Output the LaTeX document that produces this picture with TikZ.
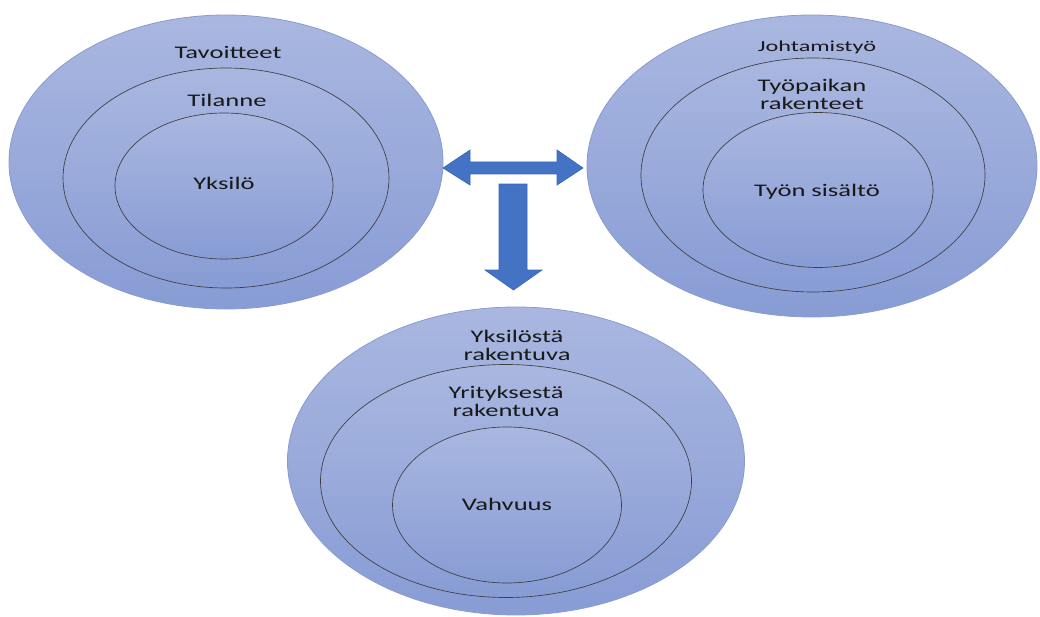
\documentclass[tikz,border=0pt]{standalone}
\usepackage{fontspec}
\setmainfont{Carlito}
\usetikzlibrary{shapes.geometric}
\definecolor{elltop}{HTML}{A9B7E0}
\definecolor{ellbot}{HTML}{889CD5}
\definecolor{ringline}{HTML}{3F3F3F}
\definecolor{outerline}{HTML}{8A9BCF}
\definecolor{arrowblue}{HTML}{4472C4}
\definecolor{arrowline}{HTML}{3A67B8}
\newcommand{\lbl}[2][1.5]{\scalebox{#1}[1]{\begin{tabular}[t]{@{}c@{}}#2\end{tabular}}}
\begin{document}
\begin{tikzpicture}[x=0.75pt,y=-0.75pt,
 ring/.style={ellipse, inner sep=0pt, top color=elltop, bottom color=ellbot, draw=ringline, line width=0.5pt},
 outerring/.style={ring, draw=outerline, line width=0.6pt},
 lab/.style={anchor=base, inner sep=0pt, text=black!90, font=\fontsize{13.3}{13.5}\selectfont},
 smalllab/.style={lab, font=\fontsize{11.5}{12}\selectfont},
 blockarrow/.style={fill=arrowblue, draw=arrowline, line width=0.5pt, line join=miter}]
\useasboundingbox (0,0) rectangle (1040,617);
% left cluster
\node[outerring, minimum width=325.5pt, minimum height=220.5pt] (L1) at (226,162) {};
\node[ring, minimum width=244.5pt, minimum height=165pt] (L2) at (226,178) {};
\node[ring, minimum width=163.5pt, minimum height=109.5pt] (L3) at (224,186) {};
\node[lab] (tL1) at (228,59) {\lbl{Tavoitteet}};
\node[lab] (tL2) at (227,106.5) {\lbl{Tilanne}};
\node[lab] (tL3) at (224,190) {\lbl{Yksilö}};
% right cluster
\node[outerring, minimum width=337.5pt, minimum height=226.5pt] (R1) at (812,166) {};
\node[ring, minimum width=258pt, minimum height=175.5pt] (R2) at (813,175) {};
\node[ring, minimum width=172.5pt, minimum height=116.25pt] (R3) at (818,190) {};
\node[smalllab] (tR1) at (817,51.5) {\lbl[1.58]{Johtamistyö}};
\node[lab] (tR2) at (812,91.5) {\lbl{Työpaikan\\rakenteet}};
\node[lab] (tR3) at (817,196) {\lbl{Työn sisältö}};
% bottom cluster
\node[outerring, minimum width=342.75pt, minimum height=231pt] (B1) at (516,461) {};
\node[ring, minimum width=278.25pt, minimum height=174.75pt] (B2) at (506,481) {};
\node[ring, minimum width=171.75pt, minimum height=117pt] (B3) at (507,505) {};
\node[lab] (tB1) at (517,342.5) {\lbl{Yksilöstä\\rakentuva}};
\node[lab] (tB2) at (506,398) {\lbl{Yrityksestä\\rakentuva}};
\node[lab] (tB3) at (507,510) {\lbl{Vahvuus}};
% block arrows
\draw[blockarrow] (443,168) -- (470,150) -- (470,162) -- (557,162) -- (557,150) -- (583,168)
  -- (557,185) -- (557,174) -- (470,174) -- (470,185) -- cycle;
\draw[blockarrow] (499,184) -- (527,184) -- (527,270) -- (542,270) -- (513.5,290) -- (485,270)
  -- (499,270) -- cycle;
\end{tikzpicture}
\end{document}
